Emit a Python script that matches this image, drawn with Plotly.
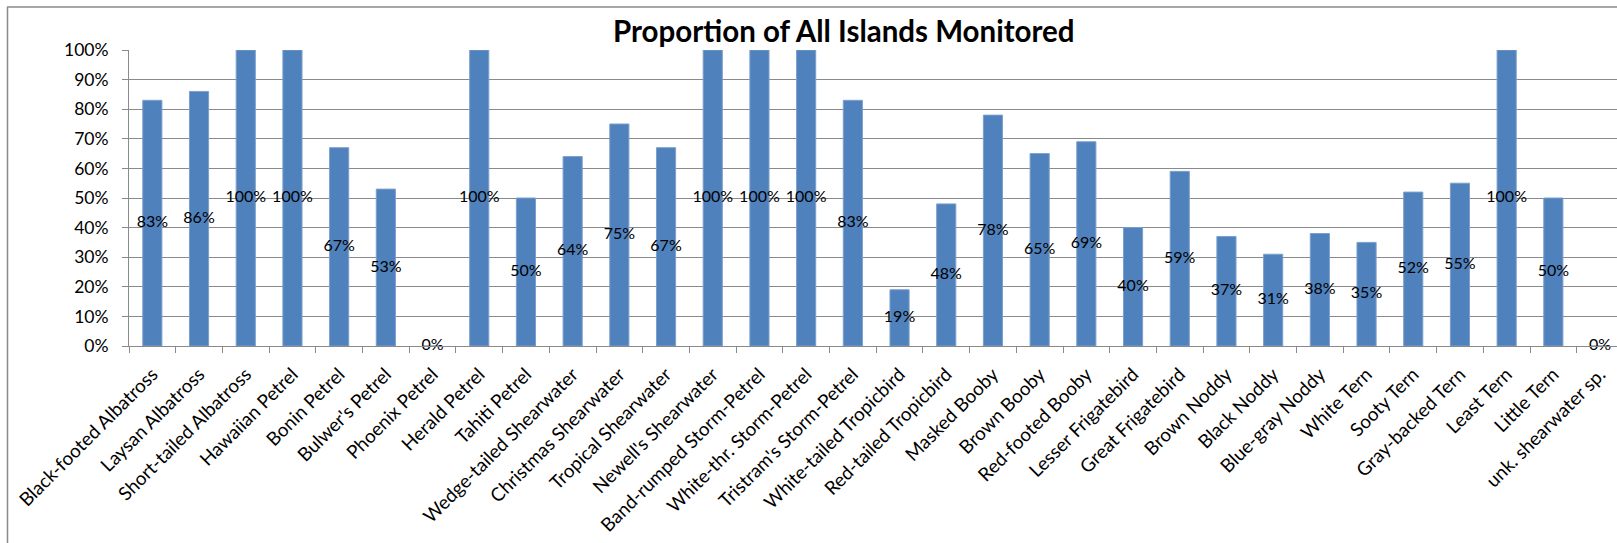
import plotly.graph_objects as go

categories = [
    "Black-footed Albatross", "Laysan Albatross", "Short-tailed Albatross",
    "Hawaiian Petrel", "Bonin Petrel", "Bulwer's Petrel", "Phoenix Petrel",
    "Herald Petrel", "Tahiti Petrel", "Wedge-tailed Shearwater",
    "Christmas Shearwater", "Tropical Shearwater", "Newell's Shearwater",
    "Band-rumped Storm-Petrel", "White-thr. Storm-Petrel",
    "Tristram's Storm-Petrel", "White-tailed Tropicbird",
    "Red-tailed Tropicbird", "Masked Booby", "Brown Booby",
    "Red-footed Booby", "Lesser Frigatebird", "Great Frigatebird",
    "Brown Noddy", "Black Noddy", "Blue-gray Noddy", "White Tern",
    "Sooty Tern", "Gray-backed Tern", "Least Tern", "Little Tern",
    "unk. shearwater sp.",
]
proportion = [
    0.83, 0.86, 1.00, 1.00, 0.67, 0.53, 0.00, 1.00, 0.50, 0.64, 0.75, 0.67,
    1.00, 1.00, 1.00, 0.83, 0.19, 0.48, 0.78, 0.65, 0.69, 0.40, 0.59, 0.37,
    0.31, 0.38, 0.35, 0.52, 0.55, 1.00, 0.50, 0.00,
]
y_ticks = [i / 10 for i in range(11)]
y_ticklabels = [f"{i * 10}%" for i in range(11)]
title_text = "Proportion of All Islands Monitored"

W, H = 1617, 543
L, R, T, B = 129, 0, 50, 197
plot_w = W - L - R
plot_h = H - T - B
cat_px = 46.7
x_max = -0.5 + plot_w / cat_px

FONT = "Lato"
GRAY = "#8a8a8a"

fig = go.Figure()
fig.add_trace(go.Bar(
    x=categories, y=proportion, width=0.41,
    marker=dict(color="#4F81BD", line=dict(color="#7C9FCC", width=1)),
    hoverinfo="x+y",
))
fig.add_trace(go.Scatter(
    x=categories, y=[v / 2 for v in proportion], mode="text",
    text=[f"{round(v * 100)}%" for v in proportion],
    textposition="middle center",
    textfont=dict(family=FONT, size=16, color="#000000"),
    cliponaxis=False, hoverinfo="skip", showlegend=False,
))

def px_x(p):
    return (p - L) / plot_w

def px_y(p):
    return (H - B - p) / plot_h

fig.add_annotation(
    text=f"<b>{title_text}</b>", xref="paper", yref="paper",
    x=px_x(843.5), y=px_y(30), xanchor="center", yanchor="middle",
    showarrow=False, font=dict(family=FONT, size=29.5, color="#000000"),
)
# chart outer border (left and top visible)
fig.add_shape(type="line", xref="paper", yref="paper",
              x0=px_x(7.5), x1=px_x(7.5), y0=px_y(7), y1=px_y(560),
              line=dict(color=GRAY, width=1.5))
fig.add_shape(type="line", xref="paper", yref="paper",
              x0=px_x(7), x1=px_x(1640), y0=px_y(7), y1=px_y(7),
              line=dict(color=GRAY, width=1.5))

fig.update_layout(
    width=W, height=H,
    margin=dict(l=L, r=R, t=T, b=B, pad=0, autoexpand=False),
    paper_bgcolor="white", plot_bgcolor="white",
    showlegend=False,
    font=dict(family=FONT, size=17, color="#000000"),
    xaxis=dict(
        type="category", range=[-0.5, x_max], autorange=False,
        automargin=False,
        tickson="boundaries", ticks="outside", ticklen=6, tickcolor=GRAY,
        showline=True, linecolor=GRAY, linewidth=1, showgrid=False,
        tickangle=-45, tickfont=dict(family=FONT, size=18.8, color="#000000"),
        ticklabelstandoff=9,
    ),
    yaxis=dict(
        range=[0, 1], autorange=False, automargin=False,
        tickvals=y_ticks, ticktext=y_ticklabels,
        ticks="outside", ticklen=6, tickcolor=GRAY,
        showline=True, linecolor=GRAY, linewidth=1,
        showgrid=True, gridcolor=GRAY, gridwidth=1,
        zeroline=False,
        tickfont=dict(family=FONT, size=17.5, color="#000000"),
        ticklabelstandoff=10,
    ),
)

fig.write_html("out.html")
